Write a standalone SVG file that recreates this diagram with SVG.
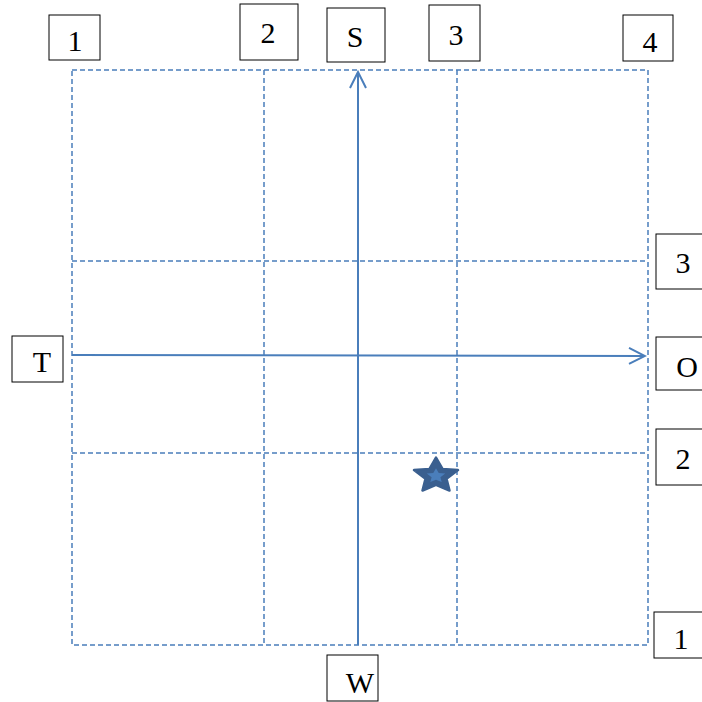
<svg xmlns="http://www.w3.org/2000/svg" width="702" height="702" viewBox="0 0 702 702">
<defs>
<style>
.grid{fill:none;stroke:#4A7EBB;stroke-width:1.5;stroke-dasharray:5,3}
.axis{fill:none;stroke:#4A7EBB;stroke-width:2}
.box rect{fill:#fff;stroke:#000;stroke-width:1}
.box text{font-family:"Liberation Serif",serif;font-size:30px;fill:#000;text-anchor:middle}
</style>
<marker id="arr" viewBox="0 0 20 20" refX="18" refY="10" markerWidth="20" markerHeight="20" markerUnits="userSpaceOnUse" orient="auto">
<path d="M2,2 L18,10 L2,18" fill="none" stroke="#4A7EBB" stroke-width="2"/>
</marker>
</defs>
<rect width="702" height="702" fill="#fff"/>
<g id="grid">
<rect class="grid" x="72" y="70" width="576" height="575"/>
<line class="grid" x1="264" y1="70" x2="264" y2="645"/>
<line class="grid" x1="457" y1="70" x2="457" y2="645"/>
<line class="grid" x1="72" y1="261" x2="648" y2="261"/>
<line class="grid" x1="72" y1="453" x2="648" y2="453"/>
</g>
<g id="connectors">
<line class="axis" x1="358" y1="645" x2="358" y2="72" marker-end="url(#arr)"/>
<line class="axis" x1="72" y1="355" x2="645" y2="356" marker-end="url(#arr)"/>
</g>
<g id="star">
<path d="M436,457.5 L442.5,468.9 L458,470.1 L446.5,478.7 L449.5,490.5 L436,484.8 L422.5,490.5 L425.5,478.7 L414,470.1 L429.5,468.9 Z" fill="#3A5F8F" stroke="#3A5F8F" stroke-width="2.5" stroke-linejoin="round"/>
<g transform="translate(436,476) scale(0.42) translate(-436,-476)">
<path d="M436,457.5 L442.5,468.9 L458,470.1 L446.5,478.7 L449.5,490.5 L436,484.8 L422.5,490.5 L425.5,478.7 L414,470.1 L429.5,468.9 Z" fill="#4A7EBB"/>
</g>
</g>
<g id="top1" class="box"><rect x="49" y="15" width="51" height="45"/><text x="75" y="51">1</text></g>
<g id="top2" class="box"><rect x="240" y="4" width="58" height="56"/><text x="268" y="43">2</text></g>
<g id="S" class="box"><rect x="327" y="8" width="58" height="54"/><text x="355" y="47">S</text></g>
<g id="top3" class="box"><rect x="429" y="5" width="51" height="56"/><text x="456" y="45">3</text></g>
<g id="top4" class="box"><rect x="623" y="15" width="50" height="46"/><text x="650" y="52">4</text></g>
<g id="right3" class="box"><rect x="656" y="234" width="50" height="55"/><text x="683" y="273">3</text></g>
<g id="O" class="box"><rect x="656" y="337" width="50" height="53"/><text x="687" y="377">O</text></g>
<g id="right2" class="box"><rect x="656" y="429" width="50" height="56"/><text x="683" y="469">2</text></g>
<g id="right1" class="box"><rect x="654" y="612" width="52" height="46"/><text x="681" y="649">1</text></g>
<g id="T" class="box"><rect x="12" y="336" width="51" height="46"/><text x="42" y="372">T</text></g>
<g id="W" class="box"><rect x="327" y="655" width="51" height="46"/><text x="360" y="693">W</text></g>
</svg>
